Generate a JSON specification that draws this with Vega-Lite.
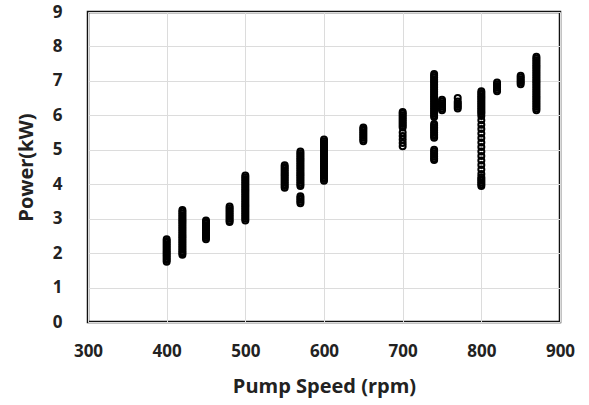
{
  "$schema": "https://vega.github.io/schema/vega-lite/v6.json",
  "width": 472,
  "height": 310,
  "autosize": "none",
  "padding": {"left": 88, "top": 12, "right": 29, "bottom": 83},
  "background": "white",
  "config": {
    "view": {"stroke": "#111", "strokeWidth": 2.5},
    "font": "Open Sans",
    "axis": {
      "domain": false,
      "ticks": false,
      "tickSize": 0,
      "labelFlush": false,
      "gridColor": "#dcdcdc",
      "gridWidth": 1,
      "labelFont": "Open Sans",
      "labelFontSize": 17,
      "labelFontWeight": "bold",
      "labelColor": "#222",
      "titleFont": "Open Sans",
      "titleFontSize": 20,
      "titleFontWeight": "bold",
      "titleColor": "#222"
    }
  },
  "data": {"values": [
    {"x":400,"y":1.75},{"x":400,"y":1.8},{"x":400,"y":1.85},{"x":400,"y":1.9},{"x":400,"y":1.95},{"x":400,"y":2},{"x":400,"y":2.05},{"x":400,"y":2.1},{"x":400,"y":2.15},{"x":400,"y":2.2},{"x":400,"y":2.25},{"x":400,"y":2.3},{"x":400,"y":2.35},{"x":400,"y":2.4},
    {"x":420,"y":1.95},{"x":420,"y":2},{"x":420,"y":2.05},{"x":420,"y":2.1},{"x":420,"y":2.15},{"x":420,"y":2.2},{"x":420,"y":2.25},{"x":420,"y":2.3},{"x":420,"y":2.35},{"x":420,"y":2.4},{"x":420,"y":2.45},{"x":420,"y":2.5},{"x":420,"y":2.55},{"x":420,"y":2.6},{"x":420,"y":2.65},{"x":420,"y":2.7},{"x":420,"y":2.75},{"x":420,"y":2.8},{"x":420,"y":2.85},{"x":420,"y":2.9},{"x":420,"y":2.95},{"x":420,"y":3},{"x":420,"y":3.05},{"x":420,"y":3.1},{"x":420,"y":3.15},{"x":420,"y":3.2},{"x":420,"y":3.25},
    {"x":450,"y":2.4},{"x":450,"y":2.45},{"x":450,"y":2.5},{"x":450,"y":2.55},{"x":450,"y":2.6},{"x":450,"y":2.65},{"x":450,"y":2.7},{"x":450,"y":2.75},{"x":450,"y":2.8},{"x":450,"y":2.85},{"x":450,"y":2.9},{"x":450,"y":2.95},
    {"x":480,"y":2.9},{"x":480,"y":2.95},{"x":480,"y":3},{"x":480,"y":3.05},{"x":480,"y":3.1},{"x":480,"y":3.15},{"x":480,"y":3.2},{"x":480,"y":3.25},{"x":480,"y":3.3},{"x":480,"y":3.35},
    {"x":500,"y":2.95},{"x":500,"y":3},{"x":500,"y":3.05},{"x":500,"y":3.1},{"x":500,"y":3.15},{"x":500,"y":3.2},{"x":500,"y":3.25},{"x":500,"y":3.3},{"x":500,"y":3.35},{"x":500,"y":3.4},{"x":500,"y":3.45},{"x":500,"y":3.5},{"x":500,"y":3.55},{"x":500,"y":3.6},{"x":500,"y":3.65},{"x":500,"y":3.7},{"x":500,"y":3.75},{"x":500,"y":3.8},{"x":500,"y":3.85},{"x":500,"y":3.9},{"x":500,"y":3.95},{"x":500,"y":4},{"x":500,"y":4.05},{"x":500,"y":4.1},{"x":500,"y":4.15},{"x":500,"y":4.2},{"x":500,"y":4.25},
    {"x":550,"y":3.9},{"x":550,"y":3.95},{"x":550,"y":4},{"x":550,"y":4.05},{"x":550,"y":4.1},{"x":550,"y":4.15},{"x":550,"y":4.2},{"x":550,"y":4.25},{"x":550,"y":4.3},{"x":550,"y":4.35},{"x":550,"y":4.4},{"x":550,"y":4.45},{"x":550,"y":4.5},{"x":550,"y":4.55},
    {"x":570,"y":3.45},{"x":570,"y":3.5},{"x":570,"y":3.55},{"x":570,"y":3.6},{"x":570,"y":3.65},
    {"x":570,"y":3.95},{"x":570,"y":4},{"x":570,"y":4.05},{"x":570,"y":4.1},{"x":570,"y":4.15},{"x":570,"y":4.2},{"x":570,"y":4.25},{"x":570,"y":4.3},{"x":570,"y":4.35},{"x":570,"y":4.4},{"x":570,"y":4.45},{"x":570,"y":4.5},{"x":570,"y":4.55},{"x":570,"y":4.6},{"x":570,"y":4.65},{"x":570,"y":4.7},{"x":570,"y":4.75},{"x":570,"y":4.8},{"x":570,"y":4.85},{"x":570,"y":4.9},{"x":570,"y":4.95},
    {"x":600,"y":4.1},{"x":600,"y":4.15},{"x":600,"y":4.2},{"x":600,"y":4.25},{"x":600,"y":4.3},{"x":600,"y":4.35},{"x":600,"y":4.4},{"x":600,"y":4.45},{"x":600,"y":4.5},{"x":600,"y":4.55},{"x":600,"y":4.6},{"x":600,"y":4.65},{"x":600,"y":4.7},{"x":600,"y":4.75},{"x":600,"y":4.8},{"x":600,"y":4.85},{"x":600,"y":4.9},{"x":600,"y":4.95},{"x":600,"y":5},{"x":600,"y":5.05},{"x":600,"y":5.1},{"x":600,"y":5.15},{"x":600,"y":5.2},{"x":600,"y":5.25},{"x":600,"y":5.3},
    {"x":650,"y":5.25},{"x":650,"y":5.3},{"x":650,"y":5.35},{"x":650,"y":5.4},{"x":650,"y":5.45},{"x":650,"y":5.5},{"x":650,"y":5.55},{"x":650,"y":5.6},{"x":650,"y":5.65},
    {"x":700,"y":5.1},{"x":700,"y":5.2},{"x":700,"y":5.3},{"x":700,"y":5.4},{"x":700,"y":5.5},
    {"x":700,"y":5.65},{"x":700,"y":5.7},{"x":700,"y":5.75},{"x":700,"y":5.8},{"x":700,"y":5.85},{"x":700,"y":5.9},{"x":700,"y":5.95},{"x":700,"y":6},{"x":700,"y":6.05},{"x":700,"y":6.1},
    {"x":740,"y":4.7},{"x":740,"y":4.75},{"x":740,"y":4.8},{"x":740,"y":4.85},{"x":740,"y":4.9},{"x":740,"y":4.95},{"x":740,"y":5},
    {"x":740,"y":5.35},{"x":740,"y":5.4},{"x":740,"y":5.45},{"x":740,"y":5.5},{"x":740,"y":5.55},{"x":740,"y":5.6},{"x":740,"y":5.65},{"x":740,"y":5.7},{"x":740,"y":5.75},
    {"x":740,"y":5.95},{"x":740,"y":6},{"x":740,"y":6.05},{"x":740,"y":6.1},{"x":740,"y":6.15},{"x":740,"y":6.2},{"x":740,"y":6.25},{"x":740,"y":6.3},{"x":740,"y":6.35},{"x":740,"y":6.4},{"x":740,"y":6.45},{"x":740,"y":6.5},{"x":740,"y":6.55},{"x":740,"y":6.6},{"x":740,"y":6.65},{"x":740,"y":6.7},{"x":740,"y":6.75},{"x":740,"y":6.8},{"x":740,"y":6.85},{"x":740,"y":6.9},{"x":740,"y":6.95},{"x":740,"y":7},{"x":740,"y":7.05},{"x":740,"y":7.1},{"x":740,"y":7.15},{"x":740,"y":7.2},
    {"x":750,"y":6.15},{"x":750,"y":6.2},{"x":750,"y":6.25},{"x":750,"y":6.3},{"x":750,"y":6.35},{"x":750,"y":6.4},{"x":750,"y":6.45},
    {"x":770,"y":6.2},{"x":770,"y":6.25},{"x":770,"y":6.3},{"x":770,"y":6.35},{"x":770,"y":6.4},{"x":770,"y":6.5},
    {"x":800,"y":3.95},{"x":800,"y":4},{"x":800,"y":4.05},{"x":800,"y":4.1},{"x":800,"y":4.15},{"x":800,"y":4.2},{"x":800,"y":4.3},{"x":800,"y":4.43},{"x":800,"y":4.56},{"x":800,"y":4.69},{"x":800,"y":4.82},{"x":800,"y":4.95},{"x":800,"y":5.08},{"x":800,"y":5.21},{"x":800,"y":5.34},{"x":800,"y":5.47},{"x":800,"y":5.6},{"x":800,"y":5.73},{"x":800,"y":5.86},{"x":800,"y":5.98},
    {"x":800,"y":6.05},{"x":800,"y":6.1},{"x":800,"y":6.15},{"x":800,"y":6.2},{"x":800,"y":6.25},{"x":800,"y":6.3},{"x":800,"y":6.35},{"x":800,"y":6.4},{"x":800,"y":6.45},{"x":800,"y":6.5},{"x":800,"y":6.55},{"x":800,"y":6.6},{"x":800,"y":6.65},{"x":800,"y":6.7},
    {"x":820,"y":6.7},{"x":820,"y":6.75},{"x":820,"y":6.8},{"x":820,"y":6.85},{"x":820,"y":6.9},{"x":820,"y":6.95},
    {"x":850,"y":6.9},{"x":850,"y":6.95},{"x":850,"y":7},{"x":850,"y":7.05},{"x":850,"y":7.1},{"x":850,"y":7.15},
    {"x":870,"y":6.15},{"x":870,"y":6.2},{"x":870,"y":6.25},{"x":870,"y":6.3},{"x":870,"y":6.35},{"x":870,"y":6.4},{"x":870,"y":6.45},{"x":870,"y":6.5},{"x":870,"y":6.55},{"x":870,"y":6.6},{"x":870,"y":6.65},{"x":870,"y":6.7},{"x":870,"y":6.75},{"x":870,"y":6.8},{"x":870,"y":6.85},{"x":870,"y":6.9},{"x":870,"y":6.95},{"x":870,"y":7},{"x":870,"y":7.05},{"x":870,"y":7.1},{"x":870,"y":7.15},{"x":870,"y":7.2},{"x":870,"y":7.25},{"x":870,"y":7.3},{"x":870,"y":7.35},{"x":870,"y":7.4},{"x":870,"y":7.45},{"x":870,"y":7.5},{"x":870,"y":7.55},{"x":870,"y":7.6},{"x":870,"y":7.65},{"x":870,"y":7.7}
  ]},
  "mark": {"type": "point", "filled": false, "stroke": "#000", "strokeWidth": 2, "size": 36, "opacity": 1},
  "encoding": {
    "x": {
      "field": "x", "type": "quantitative",
      "scale": {"domain": [300, 900], "nice": false, "zero": false},
      "axis": {"values": [300, 400, 500, 600, 700, 800, 900], "labelPadding": 21, "title": "Pump Speed (rpm)", "titlePadding": 17}
    },
    "y": {
      "field": "y", "type": "quantitative",
      "scale": {"domain": [0, 9], "nice": false},
      "axis": {"values": [0, 1, 2, 3, 4, 5, 6, 7, 8, 9], "labelPadding": 26, "title": "Power(kW)", "titlePadding": 16}
    }
  }
}
